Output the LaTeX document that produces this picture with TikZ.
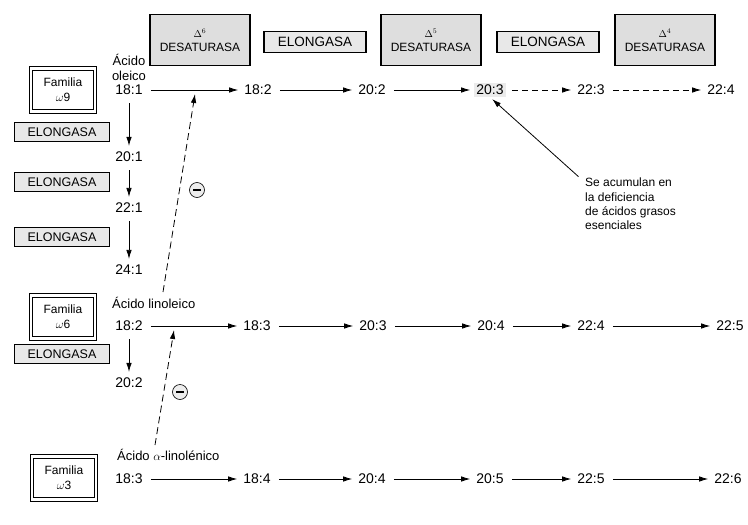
\documentclass[tikz,border=0pt]{standalone}
\usepackage{fontspec}
\setmainfont{Liberation Sans}
\usetikzlibrary{positioning,arrows.meta}

\tikzset{
  acido/.style={inner sep=2pt, font=\fontsize{14}{16}\selectfont},
  rotulo/.style={inner sep=1pt, font=\fontsize{13}{15}\selectfont, align=center},
  desat/.style={draw, line width=1.8pt, fill=black!13, minimum width=100pt, minimum height=51pt, align=center, font=\fontsize{12}{14}\selectfont},
  elong/.style={draw, line width=1.3pt, fill=black!9, minimum width=95pt, minimum height=19pt, inner sep=0pt},
  familia/.style={draw, double, double distance=2.4pt, line width=1.2pt, minimum width=64pt, minimum height=43pt, align=center, font=\fontsize{12}{15}\selectfont},
  punta/.style={-{Latex[length=9pt,width=5.5pt]}, line width=0.8pt},
  paso/.style={punta, shorten <=6pt, shorten >=4pt},
  bloqueo/.style={circle, draw, line width=0.6pt, fill=black!7, minimum size=15pt, inner sep=0pt}
}

\begin{document}
\begin{tikzpicture}[x=1pt,y=-1pt]
	\useasboundingbox[fill=white] (0,0) rectangle (748,525);
	% enzimas arriba
	\node[desat] (d6) at (200,40) {{\fontsize{10}{10}\selectfont$\Delta^{6}$}\\DESATURASA};
	\node[elong, minimum width=102pt, minimum height=21pt, font=\fontsize{13.5}{15}\selectfont] (e1) at (315,42) {ELONGASA};
	\node[desat] (d5) at (431,40) {{\fontsize{10}{10}\selectfont$\Delta^{5}$}\\DESATURASA};
	\node[elong, minimum width=102pt, minimum height=21pt, font=\fontsize{13.5}{15}\selectfont] (e2) at (548,42) {ELONGASA};
	\node[desat] (d4) at (665,40) {{\fontsize{10}{10}\selectfont$\Delta^{4}$}\\DESATURASA};
	% familias
	\node[familia] (f9) at (63,90) {Familia\\$\omega$9};
	\node[familia] (f6) at (63,317) {Familia\\$\omega$6};
	\node[familia] (f3) at (64,478) {Familia\\$\omega$3};
	% elongasas a la izquierda
	\foreach \nombre/\y in {l1/132, l2/182, l3/237, l4/354}
	  \node[elong, font=\fontsize{12.5}{14}\selectfont] (\nombre) at (62,\y) {ELONGASA};
	% serie omega 9
	\node[acido] (n181) at (129,90) {18:1};
	\node[rotulo, above=1pt of n181] (oleico) {Ácido\\oleico};
	\node[acido] (n182) at (258,90) {18:2};
	\node[acido] (n202) at (372,90) {20:2};
	\node[acido, fill=black!8] (n203) at (490,90) {20:3};
	\node[acido] (n223) at (591,90) {22:3};
	\node[acido] (n224) at (721,90) {22:4};
	\node[acido] (n201) at (129,157) {20:1};
	\node[acido] (n221) at (129,208) {22:1};
	\node[acido] (n241) at (129,270) {24:1};
	\draw[paso] (n181) -- (n182);
	\draw[paso] (n182) -- (n202);
	\draw[paso] (n202) -- (n203);
	\draw[paso, dash pattern=on 6pt off 4pt] (n203) -- (n223);
	\draw[paso, dash pattern=on 6pt off 4pt] (n223) -- (n224);
	\draw[paso] (n181) -- (n201);
	\draw[paso] (n201) -- (n221);
	\draw[paso] (n221) -- (n241);
	% serie omega 6
	\node[rotulo, anchor=west] (linoleico) at (111,303) {Ácido linoleico};
	\node[acido] (m182) at (129,326) {18:2};
	\node[acido] (m183) at (257,326) {18:3};
	\node[acido] (m203) at (373,326) {20:3};
	\node[acido] (m204) at (491,326) {20:4};
	\node[acido] (m224) at (591,326) {22:4};
	\node[acido] (m225) at (730,326) {22:5};
	\node[acido] (m202) at (129,383) {20:2};
	\draw[paso] (m182) -- (m183);
	\draw[paso] (m183) -- (m203);
	\draw[paso] (m203) -- (m204);
	\draw[paso] (m204) -- (m224);
	\draw[paso] (m224) -- (m225);
	\draw[paso] (m182) -- (m202);
	% serie omega 3
	\node[rotulo, anchor=west] (linolenico) at (116,455) {Ácido $\alpha$-linolénico};
	\node[acido] (k183) at (129,479) {18:3};
	\node[acido] (k184) at (257,479) {18:4};
	\node[acido] (k204) at (372,479) {20:4};
	\node[acido] (k205) at (490,479) {20:5};
	\node[acido] (k225) at (591,479) {22:5};
	\node[acido] (k226) at (728,479) {22:6};
	\draw[paso] (k183) -- (k184);
	\draw[paso] (k184) -- (k204);
	\draw[paso] (k204) -- (k205);
	\draw[paso] (k205) -- (k225);
	\draw[paso] (k225) -- (k226);
	% inhibicion
	\coordinate (i1) at (163,292);
	\coordinate (t1) at (195,94);
	\coordinate (i2) at (155,445);
	\coordinate (t2) at (174,330);
	\draw[punta, dash pattern=on 7pt off 4pt] (i1) -- (t1);
	\draw[punta, dash pattern=on 7pt off 4pt] (i2) -- (t2);
	\node[bloqueo] (b1) at (197,190) {\rule{8pt}{1.5pt}};
	\node[bloqueo] (b2) at (180,392) {\rule{8pt}{1.5pt}};
	% nota
	\node[anchor=north west, align=left, inner sep=0pt, font=\fontsize{12}{14.3}\selectfont] (nota) at (585,178)
	  {Se acumulan en\\la deficiencia\\de ácidos grasos\\esenciales};
	\draw[punta, shorten <=2pt, shorten >=3pt] ([xshift=-5pt]nota.north west) -- (n203.south);
\end{tikzpicture}
\end{document}
